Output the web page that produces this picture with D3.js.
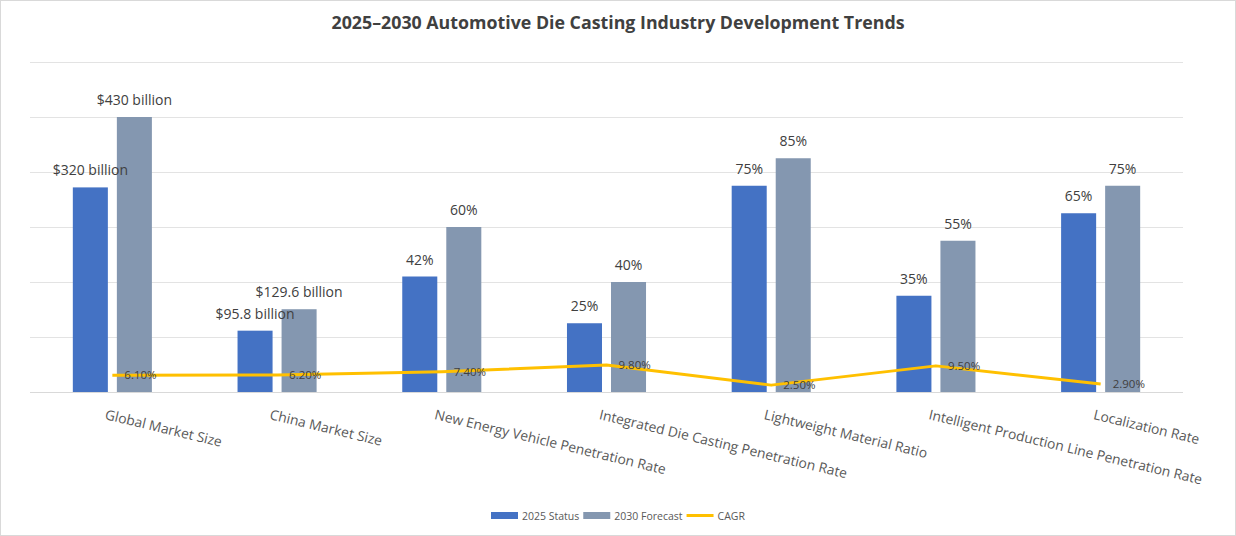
<!DOCTYPE html>
<html>
<head>
    <title>Automotive Die Casting Trends</title>
    <script src="https://d3js.org/d3.v7.min.js"></script>
    <style>
        body { margin: 0; background: #fff; }
        svg { font-family: "Open Sans", sans-serif; }
        .grid line { stroke: #e3e3e3; }
        .title { font-size: 17.8px; font-weight: bold; fill: #404040; }
        .val { font-size: 14px; fill: #404040; }
        .cagr-lbl { font-size: 11.5px; fill: #404040; }
        .cat { font-size: 13.8px; fill: #595959; }
        .legend text { font-size: 10.5px; fill: #595959; }
    </style>
</head>
<body>
<div id="chart"></div>
<script>
// categories and series (market sizes are drawn on the same 0-120 axis, scaled to 430 = 100)
const categories = ["Global Market Size", "China Market Size", "New Energy Vehicle Penetration Rate",
    "Integrated Die Casting Penetration Rate", "Lightweight Material Ratio",
    "Intelligent Production Line Penetration Rate", "Localization Rate"];
const status2025 = [74.4, 22.3, 42, 25, 75, 35, 65];
const forecast2030 = [100, 30.1, 60, 40, 85, 55, 75];
const statusLabels = ["$320 billion", "$95.8 billion", "42%", "25%", "75%", "35%", "65%"];
const forecastLabels = ["$430 billion", "$129.6 billion", "60%", "40%", "85%", "55%", "75%"];
const cagr = [6.1, 6.2, 7.4, 9.8, 2.5, 9.5, 2.9];
const cagrLabels = ["6.10%", "6.20%", "7.40%", "9.80%", "2.50%", "9.50%", "2.90%"];
const yTicks = [0, 20, 40, 60, 80, 100, 120];

const W = 1236, H = 536;
const colors = { status: "#4472C4", forecast: "#8497B0", cagr: "#FFC000" };

const svg = d3.select("#chart").append("svg")
    .attr("width", W).attr("height", H);

svg.append("rect")
    .attr("x", 0.5).attr("y", 0.5)
    .attr("width", W - 1).attr("height", H - 1)
    .attr("fill", "#fff").attr("stroke", "#d9d9d9");

svg.append("text")
    .attr("class", "title")
    .attr("x", 618).attr("y", 29)
    .attr("text-anchor", "middle")
    .text("2025\u20132030 Automotive Die Casting Industry Development Trends");

const x0 = d3.scaleBand()
    .domain(categories)
    .range([30, 1183])
    .paddingInner(0.52)
    .paddingOuter(0.26);

const x1 = d3.scaleBand()
    .domain(["status", "forecast"])
    .range([0, x0.bandwidth()])
    .paddingInner(0.2045);

const y = d3.scaleLinear().domain([0, 120]).range([392, 62]);

// gridlines
svg.append("g").attr("class", "grid")
  .selectAll("line")
  .data(yTicks)
  .join("line")
    .attr("x1", 30).attr("x2", 1183)
    .attr("y1", d => Math.round(y(d)) + 0.5)
    .attr("y2", d => Math.round(y(d)) + 0.5)
    .style("stroke", d => d === 0 ? "#d9d9d9" : null);

const rows = categories.map((c, i) => ({
    cat: c,
    bars: [
        { key: "status", v: status2025[i], label: statusLabels[i] },
        { key: "forecast", v: forecast2030[i], label: forecastLabels[i] }
    ]
}));

const groups = svg.append("g")
  .selectAll("g")
  .data(rows)
  .join("g")
    .attr("transform", d => `translate(${x0(d.cat)},0)`);

groups.selectAll("rect")
    .data(d => d.bars)
    .join("rect")
    .attr("x", d => x1(d.key))
    .attr("width", x1.bandwidth())
    .attr("y", d => y(d.v))
    .attr("height", d => y(0) - y(d.v))
    .attr("fill", d => colors[d.key]);

groups.selectAll("text")
    .data(d => d.bars)
    .join("text")
    .attr("class", "val")
    .attr("x", d => x1(d.key) + x1.bandwidth() / 2)
    .attr("y", d => y(d.v) - 12)
    .attr("text-anchor", "middle")
    .text(d => d.label);

// CAGR line
const cx = c => x0(c) + x0.bandwidth() / 2;
const line = d3.line()
    .x((d, i) => cx(categories[i]))
    .y(d => y(d));

svg.append("path")
    .datum(cagr)
    .attr("d", line)
    .attr("fill", "none")
    .attr("stroke", colors.cagr)
    .attr("stroke-width", 3)
    .attr("stroke-linejoin", "round");

svg.append("g")
  .selectAll("text")
  .data(cagr)
  .join("text")
    .attr("class", "cagr-lbl")
    .attr("x", (d, i) => cx(categories[i]) + 12)
    .attr("y", d => y(d) + 4)
    .text((d, i) => cagrLabels[i]);

// category labels, rotated
svg.append("g")
  .selectAll("text")
  .data(categories)
  .join("text")
    .attr("class", "cat")
    .attr("transform", d => `translate(${cx(d) - 8},419) rotate(13.5)`)
    .text(d => d);

// legend
const legendItems = [
    { name: "2025 Status", type: "rect", color: colors.status },
    { name: "2030 Forecast", type: "rect", color: colors.forecast },
    { name: "CAGR", type: "line", color: colors.cagr }
];
const legend = svg.append("g").attr("class", "legend");
let lx = 491;
legendItems.forEach(it => {
    if (it.type === "rect") {
        legend.append("rect").attr("x", lx).attr("y", 512)
            .attr("width", 27).attr("height", 7).attr("fill", it.color);
    } else {
        legend.append("line").attr("x1", lx).attr("x2", lx + 27)
            .attr("y1", 515.5).attr("y2", 515.5)
            .attr("stroke", it.color).attr("stroke-width", 3);
    }
    const t = legend.append("text").attr("x", lx + 31).attr("y", 519.5).text(it.name);
    lx += 31 + t.node().getComputedTextLength() + 4;
});
</script>
</body>
</html>
